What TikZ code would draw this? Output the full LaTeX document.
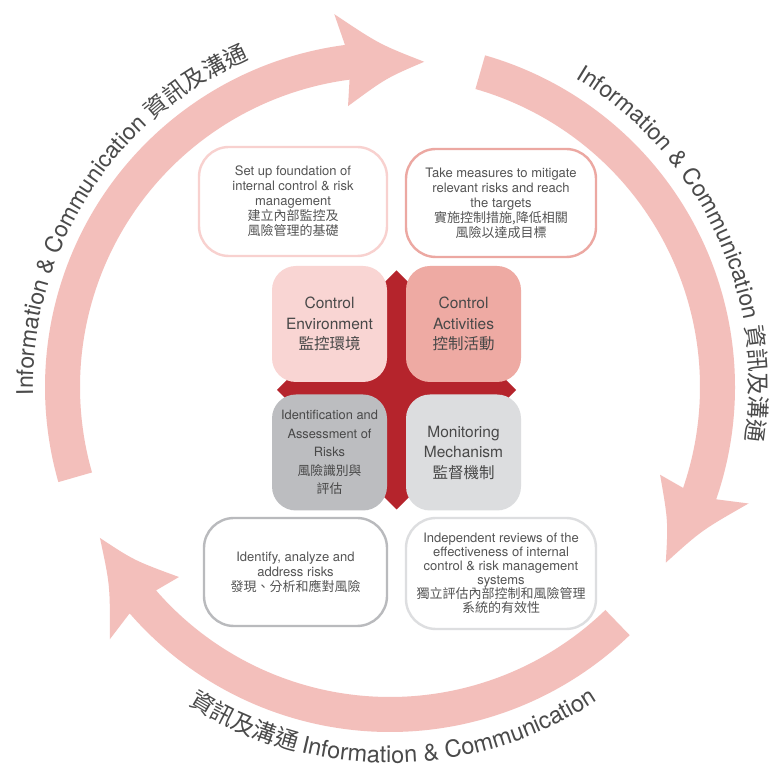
\documentclass[tikz,border=0pt]{standalone}
\usepackage{fontspec}
\setmainfont{TeX Gyre Heros}
\newfontfamily\cjk{Noto Sans CJK TC}
\usetikzlibrary{decorations.text}
\definecolor{arrowpink}{HTML}{F3BFBB}
\definecolor{crossred}{HTML}{B5242C}
\definecolor{envfill}{HTML}{F9D5D3}
\definecolor{actfill}{HTML}{EEAAA3}
\definecolor{riskfill}{HTML}{BCBDC0}
\definecolor{monfill}{HTML}{DCDDDF}
\definecolor{envline}{HTML}{F8D1CF}
\definecolor{actline}{HTML}{ECA8A2}
\definecolor{riskline}{HTML}{B9BABD}
\definecolor{monline}{HTML}{DDDEE0}
\definecolor{arctext}{HTML}{4A4A4A}
\definecolor{boxtext}{HTML}{545454}
\definecolor{coretext}{HTML}{484848}
\newcommand\arcfont{\fontsize{23}{27}\selectfont\color{arctext}}
\newcommand\arccjkfont{\fontsize{23}{27}\selectfont\cjk\color{arctext}}
\newcommand\arcfontb{\fontsize{23.5}{27}\selectfont\color{arctext}}
\newcommand\arccjkfontb{\fontsize{23.5}{27}\selectfont\cjk\color{arctext}}
\begin{document}
\begin{tikzpicture}[x=1pt,y=1pt,
  corebox/.style={minimum width=115pt, minimum height=116pt, rounded corners=24pt,
    inner sep=0pt, align=center, text=coretext, font=\fontsize{15.5}{20.5}\selectfont},
  notebox/.style={draw, line width=2.4pt, fill=white, rounded corners=30pt,
    inner sep=0pt, align=center, text=boxtext, font=\fontsize{13}{15}\selectfont},
  bandfill/.style={fill=arrowpink}
]
\useasboundingbox (0,0) rectangle (771,768);
\fill[white] (0,0) rectangle (771,768);

\begin{scope}[shift={(390,381)}]
  % left / top arrow
  \fill[bandfill] (196:310) arc[start angle=196, end angle=97.5, radius=310]
    -- (98.5:284) .. controls (90.7:309) .. (84:327)
    .. controls (91.8:343) .. (98.5:377) -- (97.5:345)
    arc[start angle=97.5, end angle=196, radius=345] -- cycle;
  % right arrow
  \fill[bandfill] (74:310) arc[start angle=74, end angle=-19, radius=310]
    -- (-18:284) .. controls (-25.8:309) .. (-32.5:327)
    .. controls (-24.7:343) .. (-18:377) -- (-19:345)
    arc[start angle=-19, end angle=74, radius=345] -- cycle;
  % bottom arrow
  \fill[bandfill] (314:310) arc[start angle=314, end angle=221, radius=310]
    -- (222:284) .. controls (214.2:309) .. (207.5:327)
    .. controls (215.3:343) .. (222:377) -- (221:345)
    arc[start angle=221, end angle=314, radius=345] -- cycle;

  % texts along the arcs
  \path[decorate, decoration={text along path, text align=center,
    text={|\arcfont|Information {\&} Communication |\arccjkfont|資訊及溝通}}]
    (192.3:357) arc[start angle=192.3, end angle=102.3, radius=357];
  \path[decorate, decoration={text along path, text align=center,
    text={|\arcfont|Information {\&} Communication |\arccjkfont|資訊及溝通}}]
    (70.2:360) arc[start angle=70.2, end angle=-19.8, radius=360];
  \path[decorate, decoration={text along path, text align=center,
    text={|\arccjkfontb|資訊及溝通 |\arcfontb|Information {\&} Communication}}]
    (225.5:376) arc[start angle=225.5, end angle=315.5, radius=376];
\end{scope}

% red diamond behind the four core boxes
\fill[crossred] (396.5,497.5) -- (516,378) -- (396.5,258.5) -- (277,378) -- cycle;

% core boxes
\node[corebox, fill=envfill] (env) at (329.5,444) {Control\\Environment\\{\cjk 監控環境}};
\node[corebox, fill=actfill] (act) at (463.5,444) {Control\\Activities\\{\cjk 控制活動}};
\node[corebox, fill=riskfill, font=\fontsize{12.8}{18.5}\selectfont] (risk) at (329.5,315.5)
  {Identification and\\Assessment of\\Risks\\{\cjk 風險識別與}\\{\cjk 評估}};
\node[corebox, fill=monfill] (mon) at (463.5,315.5) {Monitoring\\Mechanism\\{\cjk 監督機制}};

% note boxes
\node[notebox, draw=envline, minimum width=188pt, minimum height=109pt] (envnote) at (293,566.5)
  {Set up foundation of\\internal control \& risk\\management\\{\cjk 建立內部監控及}\\{\cjk 風險管理的基礎}};
\node[notebox, draw=actline, minimum width=190pt, minimum height=108pt] (actnote) at (501,565)
  {Take measures to mitigate\\relevant risks and reach\\the targets\\{\cjk 實施控制措施,降低相關}\\{\cjk 風險以達成目標}};
\node[notebox, draw=riskline, minimum width=183pt, minimum height=108pt] (risknote) at (295.5,196)
  {Identify, analyze and\\address risks\\{\cjk 發現、分析和應對風險}};
\node[notebox, draw=monline, minimum width=190pt, minimum height=111pt, font=\fontsize{13}{14}\selectfont] (monnote) at (501,194.5)
  {Independent reviews of the\\effectiveness of internal\\control \& risk management\\systems\\{\cjk 獨立評估內部控制和風險管理}\\{\cjk 系統的有效性}};
\end{tikzpicture}
\end{document}
